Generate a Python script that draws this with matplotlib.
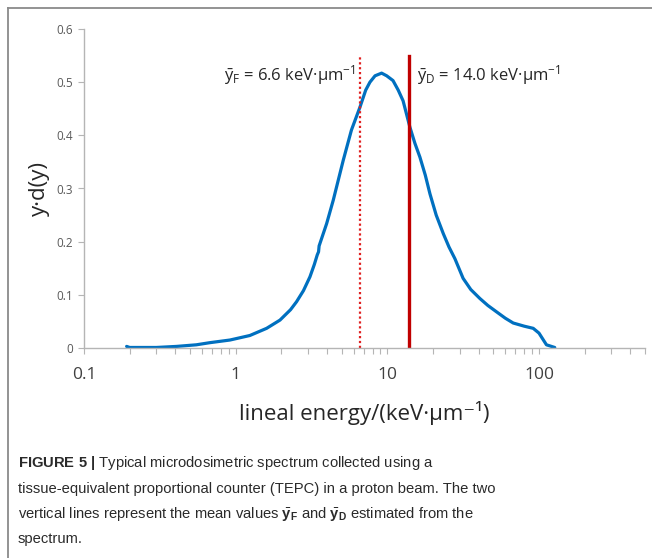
import matplotlib
matplotlib.use('Agg')
import matplotlib.pyplot as plt
from matplotlib.lines import Line2D
import numpy as np

# Espectro microdosimétrico
energia = [0.191, 0.2, 0.3, 0.408, 0.55, 0.675, 0.917, 1.24, 1.6, 1.96, 2.3, 2.52,
           2.8, 3.09, 3.3, 3.45, 3.52, 3.55, 3.98, 4.4, 5.12, 5.8, 6.6, 7.2, 7.68,
           8.3, 9.17, 9.9, 10.9, 11.8, 12.7, 14.1, 15.2, 16.4, 17.8, 19.1, 21.0,
           23.4, 25.5, 27.9, 31.6, 35.5, 40.8, 46.0, 52.5, 60.0, 67.6, 80.0, 91.6,
           100.0, 112.0, 127.0]
ydy = [0.003, 0.001, 0.001, 0.003, 0.006, 0.010, 0.015, 0.0235, 0.037, 0.0525, 0.072,
       0.087, 0.108, 0.134, 0.157, 0.175, 0.181, 0.192, 0.234, 0.278, 0.353, 0.41,
       0.453, 0.485, 0.50, 0.512, 0.517, 0.512, 0.503, 0.485, 0.465, 0.415, 0.385,
       0.359, 0.325, 0.29, 0.25, 0.215, 0.19, 0.168, 0.131, 0.11, 0.093, 0.08,
       0.068, 0.056, 0.047, 0.041, 0.037, 0.028, 0.006, 0.001]

y_F = 6.6
y_D = 14.0
altura_lineas = 0.55

y_ticks = [0, 0.1, 0.2, 0.3, 0.4, 0.5, 0.6]
y_tick_labels = ['0', '0.1', '0.2', '0.3', '0.4', '0.5', '0.6']
x_ticks = [0.1, 1, 10, 100]
x_tick_labels = ['0.1', '1', '10', '100']

plt.rcParams['font.family'] = ['Open Sans', 'DejaVu Sans']
plt.rcParams['mathtext.fontset'] = 'custom'
plt.rcParams['mathtext.rm'] = 'Open Sans'
plt.rcParams['mathtext.it'] = 'Open Sans:italic'
plt.rcParams['mathtext.bf'] = 'Liberation Sans:bold'

fig = plt.figure(figsize=(6.52, 5.58), dpi=100)
ax = fig.add_axes([84/652, 1 - 348/558, (645-84)/652, (348-29)/558])

gris = '#b5b5b5'
ax.plot(energia, ydy, color='#0070c0', lw=2.3, solid_capstyle='round')
ax.plot([y_F, y_F], [0, altura_lineas], color='#e02020', lw=1.6, ls=(0, (1, 1.2)))
ax.plot([y_D, y_D], [0, altura_lineas], color='#c00000', lw=2.4)

ax.set_xscale('log')
ax.set_xlim(0.1, 500)
ax.set_ylim(0, 0.6)
ax.set_yticks(y_ticks)
ax.set_yticklabels(y_tick_labels)
ax.set_xticks(x_ticks)
ax.set_xticklabels(x_tick_labels)
ax.xaxis.set_minor_locator(matplotlib.ticker.LogLocator(base=10, subs=np.arange(2, 10)))
ax.xaxis.set_minor_formatter(matplotlib.ticker.NullFormatter())

for lado in ['top', 'right']:
    ax.spines[lado].set_visible(False)
for lado in ['left', 'bottom']:
    ax.spines[lado].set_color(gris)
    ax.spines[lado].set_linewidth(1.0)

ax.tick_params(axis='y', which='major', length=4, width=0.8, color=gris,
               labelsize=8.5, labelcolor='#595959', pad=4)
ax.tick_params(axis='x', which='both', length=4, width=0.8, color=gris,
               labelsize=12.5, labelcolor='#404040', pad=10)

ax.set_xlabel('lineal energy/(keV·μm⁻¹)', fontsize=16, color='#262626')
ax.xaxis.set_label_coords(0.5, -0.165)
ax.set_ylabel('y·d(y)', fontsize=16, color='#262626')
ax.yaxis.set_label_coords(-0.06, 0.5)

ax.text(6.2, 0.514, r'$\bar{\mathrm{y}}_{\mathrm{F}}$ = 6.6 keV·μm$^{\mathrm{-1}}$',
        ha='right', va='center', fontsize=12, color='#262626')
ax.text(15.6, 0.514, r'$\bar{\mathrm{y}}_{\mathrm{D}}$ = 14.0 keV·μm$^{\mathrm{-1}}$',
        ha='left', va='center', fontsize=12, color='#262626')

# Marco de la figura
borde = '#8a8a8a'
fig.add_artist(Line2D([8/652, 8/652], [0, 1 - 8/558], transform=fig.transFigure,
                      color=borde, lw=1.3))
fig.add_artist(Line2D([8/652, 1], [1 - 8/558, 1 - 8/558], transform=fig.transFigure,
                      color=borde, lw=1.3))

# Pie de figura
fuente_pie = ['Liberation Sans', 'DejaVu Sans']
lineas_pie = [
    r'$\mathbf{FIGURE\ 5\ |}$ Typical microdosimetric spectrum collected using a',
    'tissue-equivalent proportional counter (TEPC) in a proton beam. The two',
    r'vertical lines represent the mean values $\bar{\mathbf{y}}_{\mathbf{F}}$ and '
    r'$\bar{\mathbf{y}}_{\mathbf{D}}$ estimated from the',
    'spectrum.',
]
y_pie = [463, 489, 514, 539]
for texto, yp in zip(lineas_pie, y_pie):
    fig.text(18/652, 1 - yp/558, texto, ha='left', va='center', fontsize=10.6,
             color='#2a2a2a', family=fuente_pie)

fig.savefig('out.png', dpi=100, facecolor='white')
